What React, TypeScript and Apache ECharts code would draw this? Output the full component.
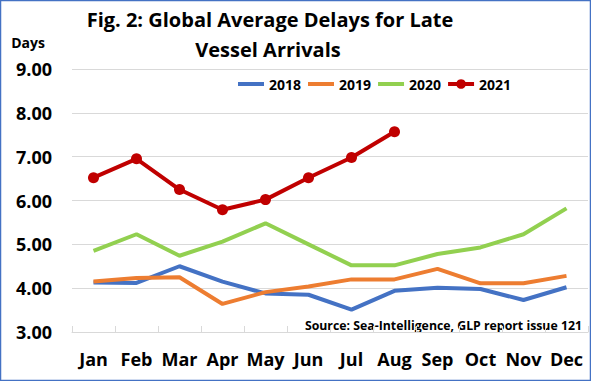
import React, { useEffect, useRef } from "react";
import * as echarts from "echarts";

const months = ["Jan", "Feb", "Mar", "Apr", "May", "Jun", "Jul", "Aug", "Sep", "Oct", "Nov", "Dec"];
const s2018 = [4.13, 4.12, 4.5, 4.15, 3.88, 3.85, 3.51, 3.94, 4.01, 3.98, 3.73, 4.02];
const s2019 = [4.15, 4.23, 4.25, 3.64, 3.91, 4.04, 4.2, 4.2, 4.44, 4.11, 4.11, 4.28];
const s2020 = [4.85, 5.23, 4.74, 5.06, 5.48, 5.0, 4.52, 4.52, 4.78, 4.93, 5.23, 5.82];
const s2021 = [6.52, 6.95, 6.25, 5.79, 6.02, 6.52, 6.98, 7.57];
const seriesNames = ["2018", "2019", "2020", "2021"];
const colors = ["#4472C4", "#ED7D31", "#92D050", "#C00000"];
const titleLines = ["Fig. 2: Global Average Delays for Late", "Vessel Arrivals"];
const yAxisName = "Days";
const sourceText = "Source: Sea-Intelligence, GLP report issue 121";

const FONT = "Open Sans";

export default function App() {
  const ref = useRef<HTMLDivElement>(null);
  useEffect(() => {
    document.body.style.margin = "0";
    const chart = echarts.init(ref.current!, null, { renderer: "svg" });
    const data = [s2018, s2019, s2020, s2021];
    const txt = (text: string, x: number, y: number, size: number, align = "center") => ({
      type: "text",
      silent: true,
      style: {
        text,
        x,
        y,
        textAlign: align,
        textVerticalAlign: "middle",
        fontFamily: FONT,
        fontWeight: "bold",
        fontSize: size,
        fill: "#000",
      },
    });
    chart.setOption({
      animation: false,
      backgroundColor: "#ffffff",
      textStyle: { fontFamily: FONT },
      graphic: [
        txt(titleLines[0], 270, 19, 20),
        txt(titleLines[1], 268, 49, 20),
        txt(yAxisName, 28, 42, 14),
        txt(sourceText, 582, 325, 12.3, "right"),
        {
          type: "rect",
          silent: true,
          shape: { x: 0.5, y: 0.5, width: 590, height: 380 },
          style: { fill: "none", stroke: "#4472C4", lineWidth: 1.5 },
        },
      ],
      legend: {
        left: 236,
        top: 77,
        padding: 0,
        itemWidth: 26,
        itemHeight: 12,
        itemGap: 5,
        lineStyle: { width: 4 },
        textStyle: { fontFamily: FONT, fontWeight: "bold", fontSize: 14, color: "#000" },
        data: seriesNames,
      },
      grid: { left: 72, right: 3, top: 69, bottom: 49, containLabel: false },
      xAxis: {
        type: "category",
        data: months,
        boundaryGap: true,
        axisLine: { lineStyle: { color: "#D9D9D9", width: 1 } },
        axisTick: { show: true, inside: true, length: 6, alignWithLabel: false, interval: 0, lineStyle: { color: "#D9D9D9" } },
        axisLabel: { color: "#000", fontFamily: FONT, fontWeight: "bold", fontSize: 18, margin: 18, interval: 0 },
      },
      yAxis: {
        type: "value",
        min: 3,
        max: 9,
        interval: 1,
        axisLine: { show: false },
        axisTick: { show: false },
        splitLine: { lineStyle: { color: "#D9D9D9", width: 1 } },
        axisLabel: {
          color: "#000",
          fontFamily: FONT,
          fontWeight: "bold",
          fontSize: 18,
          margin: 20,
          formatter: (v: number) => v.toFixed(2),
        },
      },
      series: seriesNames.map((name, i) => ({
        name,
        type: "line",
        data: data[i],
        lineStyle: { width: 4, color: colors[i] },
        symbol: i === 3 ? "circle" : "none",
        symbolSize: 11,
        showSymbol: i === 3,
        itemStyle: { color: i === 3 ? colors[i] : "rgba(0,0,0,0)" },
        z: i === 3 ? 5 : 2,
      })),
    });
    return () => chart.dispose();
  }, []);
  return <div ref={ref} style={{ position: "absolute", left: 0, top: 0, width: 591, height: 381 }} />;
}
